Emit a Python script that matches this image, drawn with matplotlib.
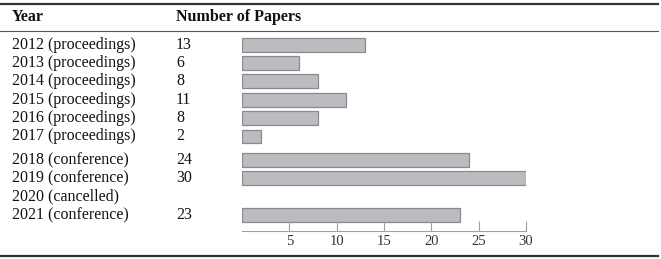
import matplotlib
matplotlib.use('Agg')
import matplotlib.pyplot as plt
from matplotlib import transforms
from matplotlib.lines import Line2D

years = ['2012 (proceedings)', '2013 (proceedings)', '2014 (proceedings)',
         '2015 (proceedings)', '2016 (proceedings)', '2017 (proceedings)',
         '2018 (conference)', '2019 (conference)', '2020 (cancelled)',
         '2021 (conference)']
papers = [13, 6, 8, 11, 8, 2, 24, 30, None, 23]
group = [0, 0, 0, 0, 0, 0, 1, 1, 1, 1]   # proceedings / conference block
xticks = [5, 10, 15, 20, 25, 30]

plt.rcParams['font.family'] = ['Liberation Serif', 'DejaVu Serif']

W, H = 661, 259
fig = plt.figure(figsize=(W / 100, H / 100), dpi=100)

def fx(px):
    return px / W

def fy(py):
    return 1 - py / H

# rows: small extra gap between the two blocks
ypos = [i + 0.28 * g for i, g in enumerate(group)]

ax = fig.add_axes([fx(242), fy(231), fx(526) - fx(242), fy(35) - fy(231)])
vals = [v if v is not None else 0 for v in papers]
bars = ax.barh(ypos, vals, height=0.76, color='#bcbcc0', edgecolor='#8a8a8e', linewidth=0.9)
for b, v in zip(bars, papers):
    if v is None:
        b.set_visible(False)
ax.set_xlim(0, 30)
ax.set_ylim(10.14, -0.52)
for s in ['top', 'right', 'left']:
    ax.spines[s].set_visible(False)
ax.spines['bottom'].set_color('#a0a0a0')
ax.spines['bottom'].set_linewidth(0.8)
ax.set_yticks([])
ax.set_xticks(xticks)
ax.tick_params(axis='x', direction='in', length=7, width=0.8, color='#a0a0a0',
               labelsize=10.5, labelcolor='#333333', pad=3)
ax.patch.set_visible(False)

# table text
tr = transforms.blended_transform_factory(fig.transFigure, ax.transData)
for y, lab, v in zip(ypos, years, papers):
    fig.text(fx(12), y, lab, transform=tr, va='center', ha='left', fontsize=11.5, color='#111111')
    if v is not None:
        fig.text(fx(176), y, str(v), transform=tr, va='center', ha='left', fontsize=11.5, color='#111111')

fig.text(fx(12), fy(17), 'Year', va='center', ha='left', fontsize=11.5, fontweight='bold', color='#111111')
fig.text(fx(176), fy(17), 'Number of Papers', va='center', ha='left', fontsize=11.5, fontweight='bold', color='#111111')

# rules
fig.add_artist(Line2D([0.0, fx(658)], [fy(3.5)] * 2, color='#333333', lw=1.6))
fig.add_artist(Line2D([0.0, fx(658)], [fy(31)] * 2, color='#555555', lw=0.8))
fig.add_artist(Line2D([0.0, fx(658)], [fy(256)] * 2, color='#333333', lw=1.6))

fig.savefig('out.png', dpi=100)
